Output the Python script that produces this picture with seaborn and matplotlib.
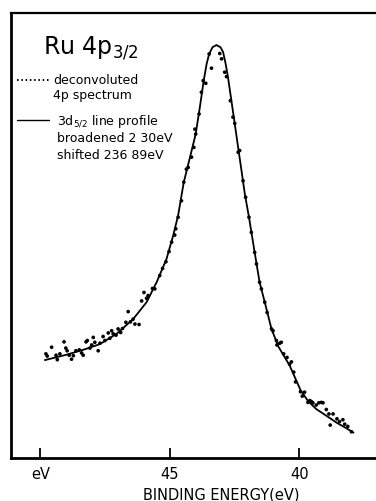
import numpy as np
import pandas as pd
import matplotlib
matplotlib.use("Agg")
import matplotlib.pyplot as plt
from matplotlib.lines import Line2D
import seaborn as sns

# ---- data ----
dots_be = [49.79, 49.74, 49.57, 49.40, 49.35, 49.25, 49.09, 49.02, 48.97, 48.89,
           48.80, 48.73, 48.63, 48.50, 48.41, 48.35, 48.24, 48.19, 48.09, 48.02,
           47.96, 47.90, 47.77, 47.70, 47.58, 47.51, 47.38, 47.32, 47.25, 47.19,
           47.08, 47.00, 46.90, 46.83, 46.70, 46.61, 46.52, 46.42, 46.35, 46.19,
           46.09, 46.00, 45.90, 45.84, 45.67, 45.58, 45.39, 45.28, 45.15, 45.03,
           44.93, 44.81, 44.77, 44.68, 44.55, 44.46, 44.36, 44.29, 44.16, 44.07,
           44.03, 44.00, 43.87, 43.78, 43.71, 43.61, 43.48, 43.39, 43.07, 43.00,
           42.88, 42.81, 42.66, 42.56, 42.49, 42.36, 42.30, 42.17, 42.07, 41.94,
           41.85, 41.72, 41.65, 41.53, 41.46, 41.33, 41.24, 41.07, 41.01, 40.88,
           40.75, 40.86, 40.69, 40.60, 40.47, 40.37, 40.30, 40.21, 40.14, 39.95,
           39.88, 39.79, 39.66, 39.59, 39.53, 39.47, 39.34, 39.24, 39.14, 39.08,
           38.95, 38.85, 38.80, 38.69, 38.54, 38.44, 38.31, 38.24, 38.12, 37.98]
dots_i = [23.4, 22.9, 24.9, 23.1, 22.1, 23.4, 26.1, 24.7, 24.1, 23.1,
          22.2, 23.0, 24.1, 24.3, 23.6, 23.1, 26.1, 26.4, 24.7, 25.4,
          27.1, 26.0, 24.1, 25.8, 27.3, 26.4, 28.1, 26.9, 28.6, 27.9,
          27.6, 29.0, 28.2, 29.1, 30.5, 32.9, 30.6, 31.2, 30.1, 30.0,
          35.3, 37.2, 35.9, 36.5, 38.1, 38.0, 41.0, 42.6, 44.1, 46.4,
          48.5, 50.1, 51.5, 54.1, 57.8, 62.0, 64.9, 65.3, 67.6, 69.8,
          73.9, 72.8, 77.3, 82.2, 84.8, 84.2, 90.8, 87.6, 90.9, 89.7,
          86.7, 85.7, 80.3, 76.6, 75.2, 68.7, 69.1, 62.3, 58.6, 54.1,
          50.7, 46.2, 43.6, 39.5, 38.0, 35.0, 32.7, 29.0, 28.6, 26.4,
          25.8, 25.4, 26.0, 23.4, 22.6, 21.1, 21.6, 19.3, 17.1, 14.9,
          13.9, 14.8, 12.5, 12.9, 12.7, 12.4, 11.9, 12.4, 12.5, 12.4,
          10.9, 9.9, 7.4, 9.9, 8.8, 8.2, 8.6, 7.6, 7.1, 5.9]

line_be = [49.83, 49.0, 48.3, 47.70, 47.06, 46.42, 45.90, 45.51, 45.13, 44.87,
           44.68, 44.46, 44.22, 44.00, 43.84, 43.69, 43.58, 43.48, 43.35, 43.20,
           43.04, 42.94, 42.84, 42.75, 42.62, 42.49, 42.36, 42.23, 42.10, 41.94,
           41.72, 41.53, 41.33, 41.07, 40.80, 40.37, 39.95, 39.66, 39.34, 38.95,
           38.54, 38.12, 37.90]
line_i = [22.0, 23.2, 24.4, 25.6, 27.9, 31.2, 35.0, 39.5, 44.7, 50.0,
          54.5, 62.0, 67.6, 72.8, 78.8, 84.8, 88.5, 90.8, 92.3, 92.8,
          92.3, 91.2, 88.5, 85.5, 80.3, 75.1, 69.8, 64.6, 59.3, 54.1,
          46.2, 39.5, 35.0, 29.0, 25.0, 20.8, 15.3, 12.8, 11.0, 9.5,
          7.9, 6.5, 5.7]

tick_pos = [50, 45, 40]
tick_labels = ["eV", "45", "40"]

title = r"Ru 4p$_{3/2}$"
leg1 = ["deconvoluted", "4p spectrum"]
leg2 = [r"3d$_{5/2}$ line profile", "broadened 2 30eV", "shifted 236 89eV"]
xlabel = "BINDING ENERGY(eV)"

# ---- plot ----
sns.set_style("white")
plt.rcParams['font.family'] = ['DejaVu Sans']
plt.rcParams['text.color'] = 'black'
plt.rcParams['axes.labelcolor'] = 'black'
plt.rcParams['xtick.color'] = 'black'
W, H = 376, 502
fig = plt.figure(figsize=(W / 100, H / 100), dpi=100)
ax = fig.add_axes([11 / W, 1 - 459 / H, 1 - 11 / W, (459 - 14) / H])

df_dots = pd.DataFrame({"be": dots_be, "i": dots_i})
df_line = pd.DataFrame({"be": line_be, "i": line_i})
sns.lineplot(data=df_line, x="be", y="i", ax=ax, color="black", lw=1.3,
             sort=False, estimator=None)
sns.scatterplot(data=df_dots, x="be", y="i", ax=ax, color="black", s=7,
                marker="o", edgecolor="none")

ax.set_xlim(51.14, 37.03)
ax.set_ylim(0, 100)
ax.set_xticks(tick_pos)
ax.set_xticklabels(tick_labels, fontsize=10.5, color="black")
ax.set_yticks([])
ax.set_ylabel("")
ax.set_xlabel(xlabel, fontsize=10.5, color="black")
ax.xaxis.set_label_coords((221 - 11) / (W - 11), -0.064)
ax.tick_params(axis="x", direction="in", length=7, width=1.3, pad=6,
               bottom=True, colors="black")
for s in ["left", "bottom"]:
    ax.spines[s].set_linewidth(2.0)
    ax.spines[s].set_color("black")
ax.spines["top"].set_linewidth(1.6)
ax.spines["top"].set_color("black")
ax.spines["right"].set_visible(False)

def fx(px):
    return px / W

def fy(py):
    return 1 - py / H

fig.text(fx(43), fy(54), title, fontsize=17, color="black", va="baseline")
fig.text(fx(53), fy(81), leg1[0], fontsize=9, va="center", color="black")
fig.text(fx(53), fy(96), leg1[1], fontsize=9, va="center", color="black")
fig.text(fx(57), fy(122), leg2[0], fontsize=9, va="center", color="black")
fig.text(fx(57), fy(139), leg2[1], fontsize=9, va="center", color="black")
fig.text(fx(57), fy(156), leg2[2], fontsize=9, va="center", color="black")
fig.add_artist(Line2D([fx(17), fx(51)], [fy(81), fy(81)], color="black",
                      lw=1.4, linestyle=(0, (0.8, 1.4))))
fig.add_artist(Line2D([fx(17), fx(49)], [fy(121), fy(121)], color="black",
                      lw=1.0))

fig.savefig("out.png", dpi=100)
